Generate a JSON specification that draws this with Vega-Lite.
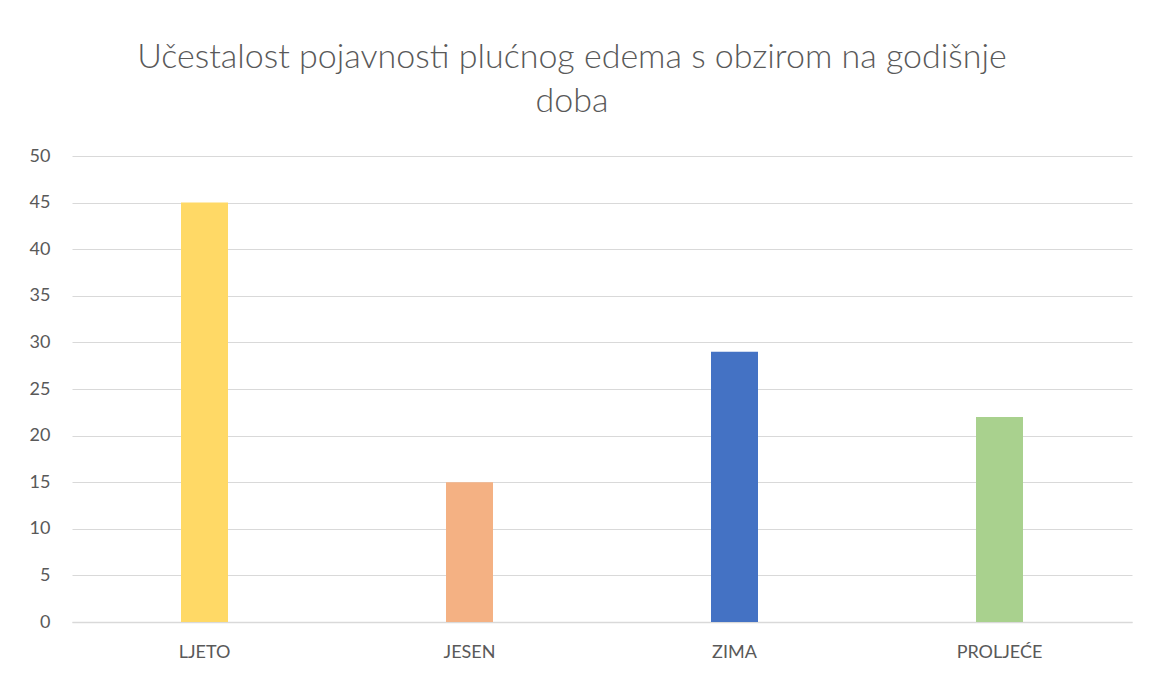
{
  "$schema": "https://vega.github.io/schema/vega-lite/v6.json",
  "width": 1060,
  "height": 466,
  "autosize": {"type": "none"},
  "padding": {"left": 72, "top": 156, "right": 17, "bottom": 55},
  "background": "white",
  "title": {
    "text": ["Učestalost pojavnosti plućnog edema s obzirom na godišnje", "doba"],
    "font": "Lato",
    "fontSize": 34,
    "fontWeight": 300,
    "color": "#595959",
    "anchor": "middle",
    "dx": -30,
    "offset": 28,
    "lineHeight": 44
  },
  "data": {
    "values": [
      {"sezona": "LJETO", "broj": 45},
      {"sezona": "JESEN", "broj": 15},
      {"sezona": "ZIMA", "broj": 29},
      {"sezona": "PROLJEĆE", "broj": 22}
    ]
  },
  "mark": {"type": "bar", "width": 47},
  "encoding": {
    "x": {
      "field": "sezona",
      "type": "nominal",
      "sort": null,
      "title": null,
      "axis": {
        "labelAngle": 0,
        "labelFont": "Lato",
        "labelFontSize": 18,
        "labelColor": "#595959",
        "labelPadding": 21,
        "ticks": false,
        "domainColor": "#d9d9d9",
        "domainWidth": 1.5
      }
    },
    "y": {
      "field": "broj",
      "type": "quantitative",
      "title": null,
      "scale": {"domain": [0, 50]},
      "axis": {
        "values": [0, 5, 10, 15, 20, 25, 30, 35, 40, 45, 50],
        "labelFont": "Lato",
        "labelFontSize": 18,
        "labelColor": "#595959",
        "labelPadding": 22,
        "ticks": false,
        "domain": false,
        "gridColor": "#d9d9d9",
        "gridWidth": 1.2
      }
    },
    "color": {
      "field": "sezona",
      "type": "nominal",
      "sort": null,
      "legend": null,
      "scale": {
        "domain": ["LJETO", "JESEN", "ZIMA", "PROLJEĆE"],
        "range": ["#ffd966", "#f4b183", "#4472c4", "#a9d18e"]
      }
    }
  },
  "config": {"view": {"stroke": null}}
}
